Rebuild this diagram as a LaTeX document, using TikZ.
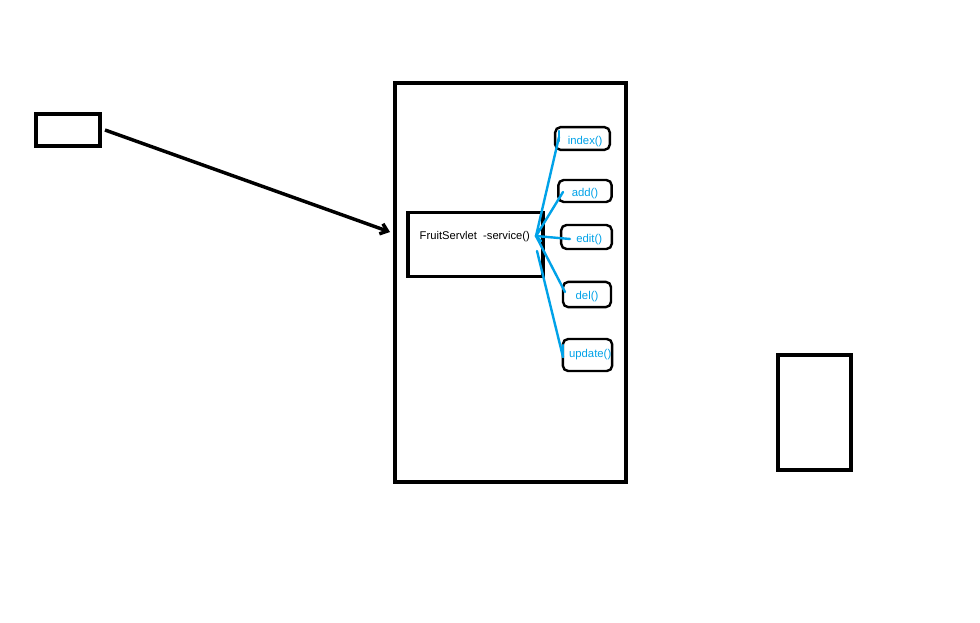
\documentclass[tikz,border=0pt]{standalone}
\usepackage{fontspec}
\setmainfont{Liberation Sans}
\usetikzlibrary{arrows.meta}
\definecolor{lineblue}{RGB}{0,162,232}
\begin{document}
\begin{tikzpicture}[x=0.75pt,y=-0.75pt,
  box/.style={draw=black,line width=2.6pt,inner sep=0pt},
  meth/.style={draw=black,line width=1.8pt,rounded corners=4pt,inner sep=0pt,text=lineblue,font=\fontsize{8.5}{9}\selectfont},
  low/.style={text height=9pt,text depth=0pt},
  conn/.style={draw=lineblue,line width=1.8pt,line cap=round}]
\useasboundingbox (0,0) rectangle (980,623);
\fill[white] (0,0) rectangle (980,623);
% left box
\node[box,minimum width=48pt,minimum height=24pt] (client) at (68,130) {};
% big container
\node[box,minimum width=173pt,minimum height=299pt] (server) at (510.5,282.5) {};
% servlet box
\node[box,minimum width=101pt,minimum height=48pt] (servlet) at (475.5,244.5) {};
\node[anchor=west,font=\fontsize{8.4}{9}\selectfont] (lbl) at (415,237) {FruitServlet\ \ -service()};
% right box
\node[box,minimum width=55pt,minimum height=86pt] (db) at (814.5,412.5) {};
% method boxes
\node[meth,low,minimum width=41pt,minimum height=17pt] (index) at (582.5,138.5) {\hspace*{4pt}index()};
\node[meth,low,minimum width=40pt,minimum height=16.5pt] (add) at (585,191) {add()};
\node[meth,text height=8pt,text depth=0pt,minimum width=38pt,minimum height=18pt] (edit) at (586.5,237) {\hspace*{4pt}edit()};
\node[meth,text height=7pt,text depth=0pt,minimum width=36pt,minimum height=19pt] (del) at (587,294.5) {del()};
\node[meth,minimum width=37pt,minimum height=24pt] (update) at (587.5,355) {\hspace*{4pt}update()};
% arrow client -> servlet
\coordinate (tip) at (390,232);
\draw[line width=2.6pt,-{Straight Barb[length=5pt,width=8pt]}] (105,130) -- (tip);
% blue connectors
\coordinate (hub) at (536,236);
\coordinate (hub2) at (537,251);
\coordinate (iend) at (559,137);
\coordinate (aend) at (563,192);
\coordinate (eend) at (570,239);
\coordinate (dend) at (565,292);
\coordinate (uend) at (563,357);
\draw[conn] (hub) -- (iend);
\draw[conn] (559,131) -- (559,141);
\draw[conn] (hub) -- (aend);
\draw[conn] (hub) -- (eend);
\draw[conn] (hub) -- (dend);
\draw[conn] (hub2) -- (uend);
\draw[conn] (563,345) -- (uend);
\draw[conn] (540,229) -- (hub) -- (541,241);
\end{tikzpicture}
\end{document}
